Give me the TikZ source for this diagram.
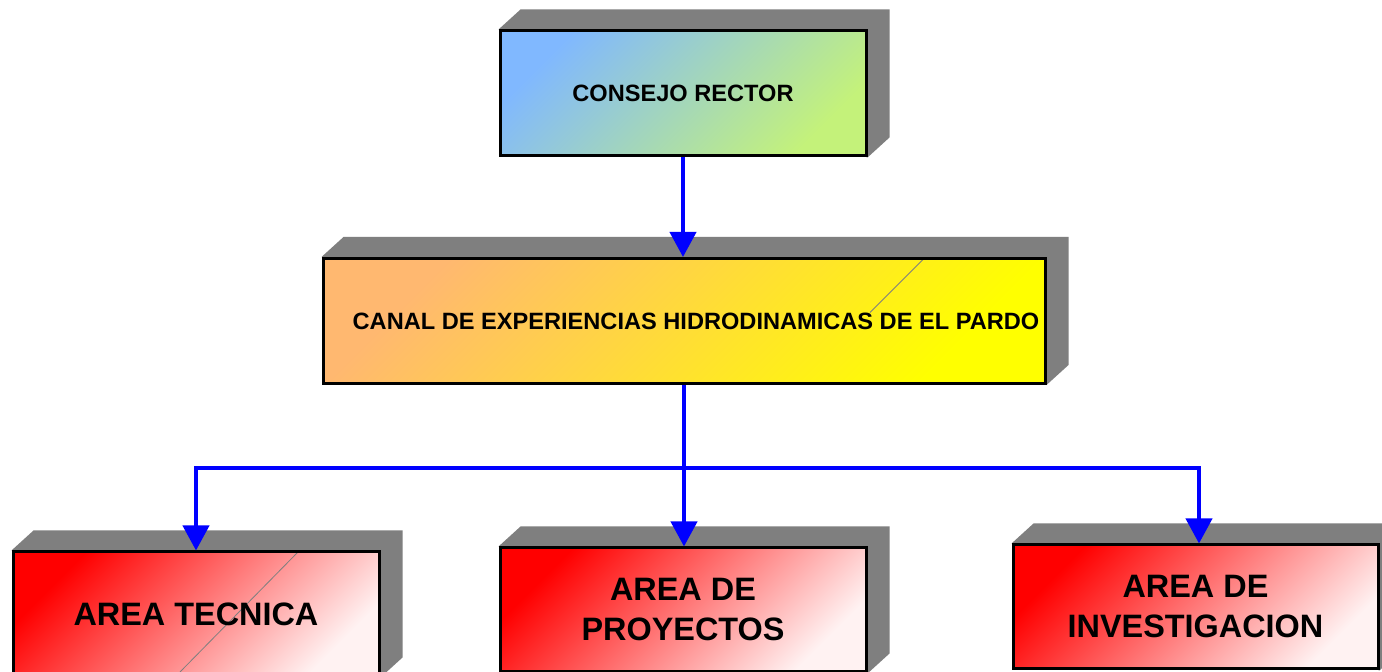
\documentclass[tikz,border=0pt]{standalone}
\usepackage{fontspec}
\setmainfont{Liberation Sans}
\usetikzlibrary{arrows.meta,backgrounds}
\definecolor{sidegray}{HTML}{7F7F7F}
\definecolor{skyblue}{HTML}{80B8FF}
\definecolor{limegreen}{HTML}{C4F27A}
\definecolor{peach}{HTML}{FFB870}
\definecolor{lemon}{HTML}{FFFF00}
\definecolor{blush}{HTML}{FFF2F2}
\begin{document}
\begin{tikzpicture}[x=0.5pt,y=-0.5pt,
  unit/.style={draw=black, line width=1.5pt, inner sep=0pt, minimum width=183pt,
    minimum height=62.5pt, align=center, font=\fontsize{11.8}{14}\selectfont\bfseries},
  board/.style={unit, top color=skyblue, bottom color=limegreen, shading angle=45},
  centre/.style={unit, minimum width=361pt, top color=peach, bottom color=lemon, shading angle=45},
  area/.style={unit, minimum height=62pt, top color=red, bottom color=blush, shading angle=45,
    font=\fontsize{16.2}{20}\selectfont\bfseries},
  seam/.style n args={4}{path picture={\draw[sidegray, line width=0.4pt]
    ([shift={(#1,#2)}]path picture bounding box.north west) --
    ([shift={(#3,#4)}]path picture bounding box.north west);}},
  link/.style={draw=blue, line width=2pt, -{Triangle[width=13pt,length=12.5pt]}}]
  \path[use as bounding box] (0,0) rectangle (1382,672);
  % front faces
  \node[board] (council) at (683,93.5) {CONSEJO RECTOR};
  \node[centre, seam={600}{1}{547}{54}] (canal) at (684,321)
    {\hspace*{12pt}CANAL DE EXPERIENCIAS HIDRODINAMICAS DE EL PARDO};
  \node[area, seam={285}{0}{167}{120}] (tecnica) at (196,614) {AREA TECNICA};
  \node[area] (proyectos) at (683,610) {AREA DE\\PROYECTOS};
  \node[area, minimum width=182.5pt] (investigacion) at (1195.5,607) {AREA DE\\INVESTIGACION};
  % grey depth behind every box
  \begin{scope}[on background layer]
    \fill[white] (0,0) rectangle (1382,672);
    \foreach \n in {council,canal,tecnica,proyectos,investigacion}
      \fill[sidegray] (\n.north west) -- ++(22,-20) -| ([shift={(22,-20)}]\n.south east)
        -- (\n.south east) -- cycle;
  \end{scope}
  % connectors
  \draw[link] (council.south) -- (council.south |- canal.north);
  \draw[link] (canal.south) -- (canal.south |- proyectos.north);
  \coordinate (bus) at (684,468);
  \draw[link] (bus) -| (tecnica.north);
  \draw[link] (bus) -| ([xshift=1.75pt]investigacion.north);
\end{tikzpicture}
\end{document}
